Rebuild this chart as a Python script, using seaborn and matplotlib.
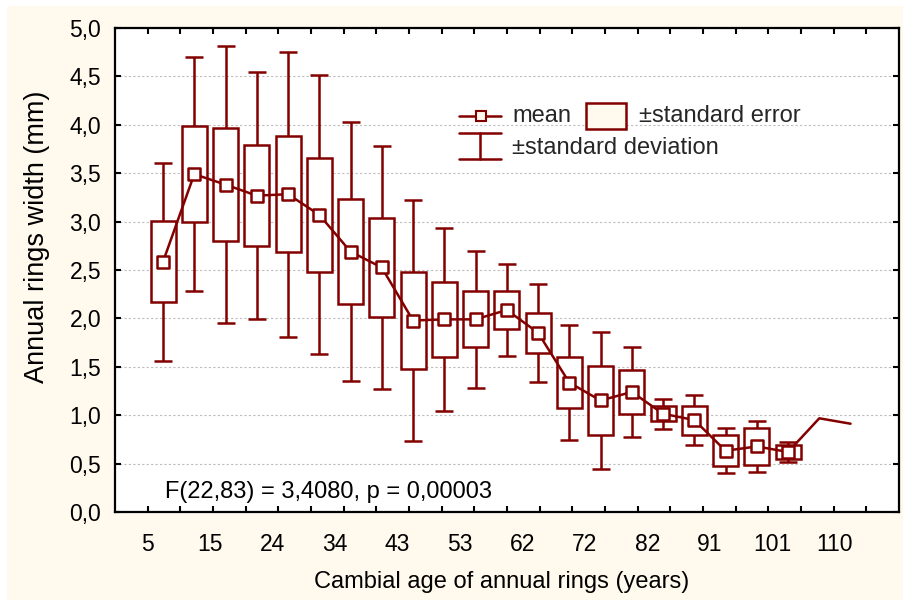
import numpy as np
import pandas as pd
import matplotlib
matplotlib.use("Agg")
import matplotlib.pyplot as plt
import seaborn as sns
from matplotlib.patches import Rectangle
from matplotlib.lines import Line2D
from matplotlib.ticker import FixedLocator, FuncFormatter, NullFormatter

# ---------------- data ----------------
group = list(range(23))
mean_width = [2.585, 3.49, 3.382, 3.268, 3.283, 3.07, 2.69, 2.526, 1.978, 1.99,
              1.99, 2.087, 1.852, 1.337, 1.152, 1.24, 1.015, 0.95, 0.633, 0.677,
              0.62, 0.968, 0.912]
std_error = [0.42, 0.494, 0.582, 0.52, 0.60, 0.59, 0.545, 0.51, 0.505, 0.385,
             0.29, 0.193, 0.206, 0.267, 0.353, 0.23, 0.08, 0.15, 0.162, 0.19,
             0.07, np.nan, np.nan]
std_dev = [1.02, 1.21, 1.434, 1.276, 1.47, 1.44, 1.335, 1.255, 1.242, 0.942,
           0.708, 0.473, 0.505, 0.598, 0.71, 0.462, 0.155, 0.26, 0.235, 0.267,
           0.10, np.nan, np.nan]
age_labels = ["5", "15", "24", "34", "43", "53", "62", "72", "82", "91", "101", "110"]
y_ticks = [0.0, 0.5, 1.0, 1.5, 2.0, 2.5, 3.0, 3.5, 4.0, 4.5, 5.0]
stat_text = "F(22,83) = 3,4080, p = 0,00003"

RED = "#820000"
CREAM = "#FFF9EE"
LW = 1.8

sns.set_theme(style="ticks")
plt.rcParams['font.family'] = ['Liberation Sans', 'DejaVu Sans']

df = pd.DataFrame({"group": group, "mean": mean_width, "se": std_error, "sd": std_dev})
box_df = df.dropna()

fig = plt.figure(figsize=(9.04, 6.0), dpi=100, facecolor="white")
fig.patches.append(Rectangle((7 / 904, 0), 1 - 7 / 904, 1 - 6 / 600,
                             transform=fig.transFigure, facecolor=CREAM,
                             edgecolor="none", zorder=-10))
ax = fig.add_axes([115 / 904, 88 / 600, 784 / 904, 484 / 600])
ax.set_facecolor("white")

# boxes: mean +/- standard error
ax.bar(box_df["group"], 2 * box_df["se"], bottom=box_df["mean"] - box_df["se"],
       width=0.8, facecolor="white", edgecolor=RED, linewidth=LW, zorder=3)
# whiskers: mean +/- standard deviation
ax.errorbar(box_df["group"], box_df["mean"], yerr=box_df["sd"], fmt="none",
            ecolor=RED, elinewidth=LW, capsize=6.4, capthick=LW, zorder=2)
# mean line
sns.lineplot(data=df, x="group", y="mean", color=RED, linewidth=LW, ax=ax,
             estimator=None, sort=False, zorder=4)
sns.scatterplot(data=box_df, x="group", y="mean", marker="s", s=72,
                facecolor="white", edgecolor=RED, linewidth=LW, ax=ax, zorder=5)

# axes limits and ticks
x0, x1 = -1.536, 23.55
ax.set_xlim(x0, x1)
ax.set_ylim(0, 5)
ax.xaxis.set_major_locator(FixedLocator([-0.5 + 2 * j for j in range(len(age_labels))]))
ax.set_xticklabels(age_labels)
ax.xaxis.set_minor_locator(FixedLocator(list(np.linspace(x0, x1, 25)[1:-1])))
ax.xaxis.set_minor_formatter(NullFormatter())
ax.tick_params(axis="x", which="major", length=0, pad=15, labelsize=16.5,
               colors="black")
ax.tick_params(axis="x", which="minor", direction="in", length=4, width=1.5,
               top=True, bottom=True, color="black")
ax.set_yticks(y_ticks)
ax.yaxis.set_major_formatter(FuncFormatter(lambda v, p: f"{v:.1f}".replace(".", ",")))
ax.tick_params(axis="y", direction="in", length=4, width=1.5, left=True, right=True,
               pad=10, labelsize=16.5, colors="black")
ax.yaxis.grid(True, linestyle=(0, (2, 2)), color="#bdbdbd", linewidth=0.8)
ax.xaxis.grid(False)
ax.set_axisbelow(True)
for s in ax.spines.values():
    s.set_color("black")
    s.set_linewidth(1.6)

ax.set_xlabel("Cambial age of annual rings (years)", fontsize=17, color="black")
ax.set_ylabel("Annual rings width (mm)", fontsize=19.5, color="black")
ax.xaxis.set_label_coords(0.493, -0.1446)
ax.xaxis.label.set_va("center")
ax.yaxis.set_label_coords(-0.100, 0.568)
ax.yaxis.label.set_va("center")

ax.text(0.0638, 0.041, stat_text, transform=ax.transAxes, fontsize=17,
        ha="left", va="center", color="black")

# manual legend
tr = ax.transAxes
ax.add_line(Line2D([0.4388, 0.4923], [0.8188, 0.8188], transform=tr, color=RED,
                   linewidth=LW, marker=None, zorder=6))
ax.add_line(Line2D([0.4662], [0.8188], transform=tr, color=RED, linestyle="none",
                   marker="s", markersize=6.5, markerfacecolor=CREAM,
                   markeredgecolor=RED, markeredgewidth=1.5, zorder=7))
ax.text(0.5064, 0.8188, "mean", transform=tr, fontsize=17, ha="left", va="center")
ax.add_patch(Rectangle((0.6004, 0.792), 0.0514, 0.0525, transform=tr,
                       facecolor=CREAM, edgecolor=RED, linewidth=LW, zorder=6))
ax.text(0.6684, 0.8188, "±standard error", transform=tr, fontsize=17, ha="left", va="center")
for yy in (0.7824, 0.7293):
    ax.add_line(Line2D([0.4388, 0.4923], [yy, yy], transform=tr, color=RED,
                       linewidth=LW, zorder=6))
ax.add_line(Line2D([0.4656, 0.4656], [0.7293, 0.7824], transform=tr, color=RED,
                   linewidth=LW, zorder=6))
ax.text(0.5064, 0.752, "±standard deviation", transform=tr, fontsize=17,
        ha="left", va="center")

fig.savefig("out.png", dpi=100, facecolor=fig.get_facecolor())
